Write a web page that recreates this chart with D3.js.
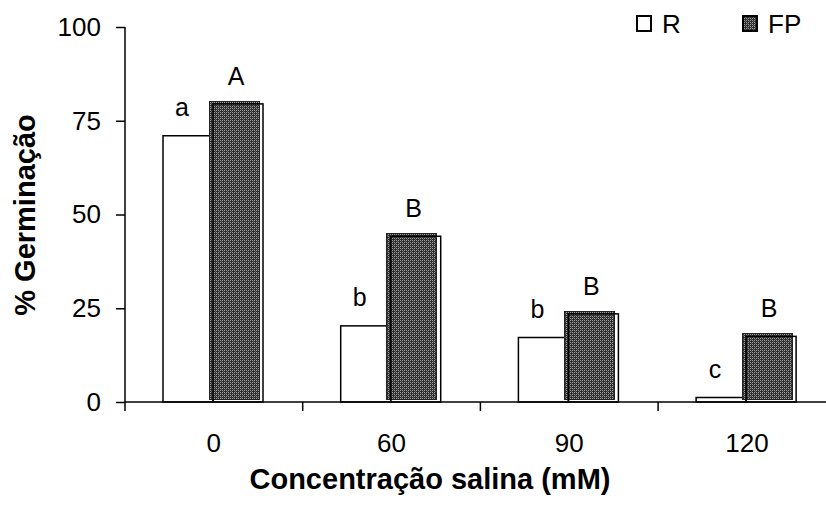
<!DOCTYPE html>
<html>
<head>
<meta charset="utf-8">
<script src="https://cdn.jsdelivr.net/npm/d3@7"></script>
<style>
  html, body { margin: 0; padding: 0; background: #fff; }
  svg { display: block; }
  text { font-family: "Liberation Sans", Arial, sans-serif; fill: #000; }
</style>
</head>
<body>
<svg id="chart" width="826" height="506"></svg>
<script>
const categories = ["0", "60", "90", "120"];
const seriesNames = ["R", "FP"];
const valuesR = [71, 20.3, 17.2, 1.2];
const valuesFP = [79.5, 44.2, 23.5, 17.5];
const lettersR = ["a", "b", "b", "c"];
const lettersFP = ["A", "B", "B", "B"];
const yTicks = [0, 25, 50, 75, 100];
const xTitle = "Concentração salina (mM)";
const yTitle = "% Germinação";

const svg = d3.select("#chart");
const defs = svg.append("defs");
const pat = defs.append("pattern")
  .attr("id", "dots").attr("patternUnits", "userSpaceOnUse")
  .attr("width", 4).attr("height", 4);
pat.append("rect").attr("width", 4).attr("height", 4).attr("fill", "#2e2e2e");
[[0,0],[2,0],[0,2],[2,2]].forEach(([px,py]) =>
  pat.append("rect").attr("x", px).attr("y", py).attr("width", 1).attr("height", 1).attr("fill", "#a0a0a0"));
[[1,1],[3,3]].forEach(([px,py]) =>
  pat.append("rect").attr("x", px).attr("y", py).attr("width", 1).attr("height", 1).attr("fill", "#5a5a5a"));

const x0 = 125, yBase = 402, yTop = 27;
const x = d3.scaleBand().domain(categories).range([x0, x0 + 4 * 177.7]).padding(0);
const xs = d3.scaleBand().domain(seriesNames).range([38, 138]).padding(0);
const y = d3.scaleLinear().domain([0, 100]).range([yBase, yTop]);

const data = categories.map((c, i) => ({ c, R: valuesR[i], FP: valuesFP[i], lR: lettersR[i], lFP: lettersFP[i] }));

// R bars
svg.append("g").selectAll("rect").data(data).join("rect")
  .attr("x", d => x(d.c) + xs("R"))
  .attr("y", d => y(d.R))
  .attr("width", xs.bandwidth())
  .attr("height", d => yBase - y(d.R))
  .attr("fill", "#fff").attr("stroke", "#000").attr("stroke-width", 1.5);

// FP bars: pattern fill offset (shadow-like) + outline
const fp = svg.append("g");
fp.selectAll("rect.fill").data(data).join("rect").attr("class", "fill")
  .attr("x", d => x(d.c) + xs("FP") - 4)
  .attr("y", d => y(d.FP) - 2.5)
  .attr("width", xs.bandwidth())
  .attr("height", d => yBase - y(d.FP))
  .attr("fill", "url(#dots)").attr("stroke", "#222").attr("stroke-width", 1)
  .attr("shape-rendering", "crispEdges");
fp.selectAll("rect.out").data(data).join("rect").attr("class", "out")
  .attr("x", d => x(d.c) + xs("FP"))
  .attr("y", d => y(d.FP))
  .attr("width", xs.bandwidth())
  .attr("height", d => yBase - y(d.FP))
  .attr("fill", "none").attr("stroke", "#000").attr("stroke-width", 1.5);

// letters
const lab = svg.append("g").attr("font-size", 25).attr("text-anchor", "middle");
lab.selectAll("text.r").data(data).join("text").attr("class", "r")
  .attr("x", d => x(d.c) + xs("R") + xs.bandwidth() / 2 - 6)
  .attr("y", d => y(d.R) - 20).text(d => d.lR);
lab.selectAll("text.f").data(data).join("text").attr("class", "f")
  .attr("x", d => x(d.c) + xs("FP") + xs.bandwidth() / 2 - 2)
  .attr("y", d => y(d.FP) - 19).text(d => d.lFP);

// Y axis
const yAxis = d3.axisLeft(y).tickValues(yTicks).tickSize(9).tickPadding(15);
const gy = svg.append("g").attr("transform", `translate(${x0},0)`).call(yAxis);
gy.select(".domain").attr("d", `M0,${yTop}V${yBase}`).attr("stroke-width", 1.5);
gy.selectAll(".tick line").attr("stroke-width", 1.5);
gy.selectAll("text").attr("font-size", 26).attr("font-family", "Liberation Sans, Arial, sans-serif").attr("fill", "#000");

// X axis
const gx = svg.append("g").attr("transform", `translate(0,${yBase})`);
gx.append("line").attr("x1", x0).attr("x2", 840).attr("y1", 0).attr("y2", 0)
  .attr("stroke", "#000").attr("stroke-width", 1.5);
const bounds = categories.map(c => x(c)).concat([x(categories[categories.length - 1]) + x.bandwidth()]);
gx.selectAll("line.t").data(bounds).join("line").attr("class", "t")
  .attr("x1", d => d).attr("x2", d => d).attr("y1", 0).attr("y2", 9)
  .attr("stroke", "#000").attr("stroke-width", 1.5);
gx.selectAll("text").data(categories).join("text")
  .attr("x", d => x(d) + x.bandwidth() / 2)
  .attr("y", 50).attr("text-anchor", "middle").attr("font-size", 26).text(d => d);

// Titles
svg.append("text").attr("x", 430).attr("y", 489).attr("text-anchor", "middle")
  .attr("font-size", 29).attr("font-weight", "bold").text(xTitle);
svg.append("text").attr("transform", "translate(35,215) rotate(-90)").attr("text-anchor", "middle")
  .attr("font-size", 29).attr("font-weight", "bold").text(yTitle);

// Legend
const leg = svg.append("g");
const legItems = [{ n: "R", sx: 637, fill: "#fff" }, { n: "FP", sx: 743, fill: "url(#dots)" }];
legItems.forEach(it => {
  leg.append("rect").attr("x", it.sx).attr("y", 16).attr("width", 14).attr("height", 15)
    .attr("fill", it.fill).attr("stroke", "#000").attr("stroke-width", 2);
  leg.append("text").attr("x", it.sx + 25).attr("y", 33).attr("font-size", 26).text(it.n);
});
</script>
</body>
</html>
